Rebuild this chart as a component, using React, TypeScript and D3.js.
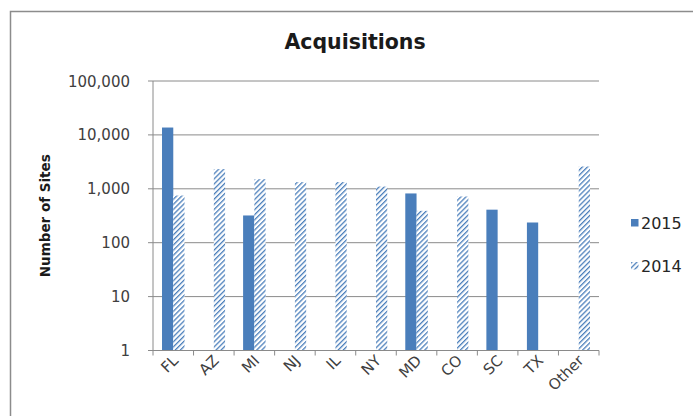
import { useMemo } from 'react';
import * as d3 from 'd3';

const categories = ['FL', 'AZ', 'MI', 'NJ', 'IL', 'NY', 'MD', 'CO', 'SC', 'TX', 'Other'];
const series = ['2015', '2014'];
// null = no bar
const values2015: (number | null)[] = [13700, null, 320, null, null, null, 820, null, 410, 237, null];
const values2014: (number | null)[] = [750, 2320, 1510, 1330, 1330, 1100, 390, 720, null, null, 2590];
const yTicks = [1, 10, 100, 1000, 10000, 100000];

const W = 693;
const H = 416;
const BLUE = '#4a7ebb';
const FONT = '"DejaVu Sans", sans-serif';

export default function App() {
  const plot = { left: 153, right: 599, top: 81, bottom: 350.5 };

  const { x, xInner, y } = useMemo(() => {
    const x = d3.scaleBand<string>().domain(categories).range([plot.left, plot.right]).paddingInner(0).paddingOuter(0);
    const xInner = d3.scaleBand<string>().domain(series).range([0, x.bandwidth()]).paddingInner(0).paddingOuter(0.8);
    const y = d3.scaleLog().domain([1, 100000]).range([plot.bottom, plot.top]);
    return { x, xInner, y };
  }, []);

  const fmt = d3.format(',');
  const rows = categories.map((c, i) => ({ c, v: [values2015[i], values2014[i]] }));

  return (
    <svg width={W} height={H} style={{ position: 'absolute', left: 0, top: 0, background: '#fff' }}>
      <defs>
        <pattern id="hatch" width="3.6" height="3.6" patternUnits="userSpaceOnUse" patternTransform="rotate(45)">
          <rect width="3.6" height="3.6" fill="#fff" />
          <line x1="0" y1="0" x2="0" y2="3.6" stroke={BLUE} strokeWidth={2.6} />
        </pattern>
      </defs>
      <rect x={10.5} y={11.5} width={W} height={H} fill="#fff" stroke="#8c8c8c" strokeWidth={1.5} />

      <text x={355} y={49} textAnchor="middle" fontFamily={FONT} fontWeight="bold" fontSize={20.5} fill="#1a1a1a">
        Acquisitions
      </text>

      {/* gridlines */}
      {yTicks.map((t) => (
        <g key={t}>
          <line x1={plot.left - 5} x2={plot.right} y1={y(t)} y2={y(t)} stroke="#8a8a8a" strokeWidth={1} />
          <text x={130} y={y(t) + 5.5} textAnchor="end" fontFamily={FONT} fontSize={15} fill="#404040">
            {fmt(t)}
          </text>
        </g>
      ))}

      {/* bars */}
      {rows.map((r) =>
        r.v.map((v, j) =>
          v == null ? null : (
            <rect
              key={r.c + j}
              x={(x(r.c) ?? 0) + (xInner(series[j]) ?? 0)}
              y={y(v)}
              width={xInner.bandwidth()}
              height={plot.bottom - y(v)}
              fill={j === 0 ? BLUE : 'url(#hatch)'}
            />
          )
        )
      )}

      {/* axes */}
      <line x1={plot.left} x2={plot.left} y1={plot.top} y2={plot.bottom} stroke="#8a8a8a" />
      <line x1={plot.left} x2={plot.right} y1={plot.bottom} y2={plot.bottom} stroke="#8a8a8a" />
      {[...categories.map((c) => x(c) ?? 0), plot.right].map((px, i) => (
        <line key={i} x1={px} x2={px} y1={plot.bottom} y2={plot.bottom + 5} stroke="#8a8a8a" />
      ))}
      {categories.map((c) => {
        const cx = (x(c) ?? 0) + x.bandwidth() / 2;
        return (
          <text
            key={c}
            transform={`translate(${cx + 6},${plot.bottom + 11}) rotate(-45)`}
            textAnchor="end"
            fontFamily={FONT}
            fontSize={15}
            fill="#404040"
          >
            {c}
          </text>
        );
      })}

      <text
        transform={`translate(50,${(plot.top + plot.bottom) / 2}) rotate(-90)`}
        textAnchor="middle"
        fontFamily={FONT}
        fontWeight="bold"
        fontSize={13.5}
        fill="#1a1a1a"
      >
        Number of Sites
      </text>

      {/* legend */}
      {series.map((s, i) => (
        <g key={s} transform={`translate(631,${219 + i * 43})`}>
          <rect width={7.5} height={7.5} fill={i === 0 ? BLUE : 'url(#hatch)'} />
          <text x={10} y={9.5} fontFamily={FONT} fontSize={16} fill="#262626">
            {s}
          </text>
        </g>
      ))}
    </svg>
  );
}
